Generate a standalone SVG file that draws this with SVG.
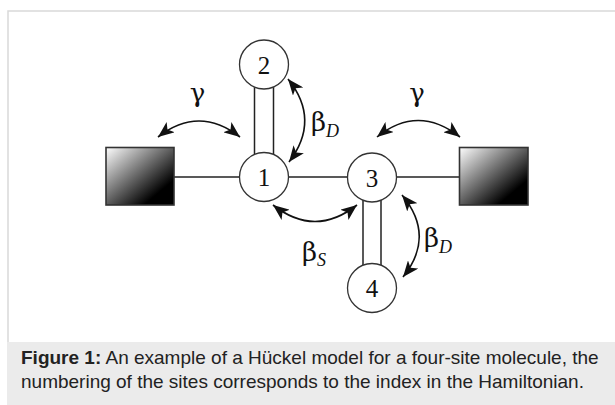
<svg xmlns="http://www.w3.org/2000/svg" width="615" height="405" viewBox="0 0 615 405">
  <style>
    .frame { stroke: #d9d9d9; stroke-width: 1.5; fill: none; }
    .bond { stroke: #222; stroke-width: 1.5; fill: none; }
    .site { fill: #fff; stroke: #333; stroke-width: 1.3; }
    .lead { stroke: #333; stroke-width: 1.6; }
    .num { font-family: "Liberation Serif", "DejaVu Serif", serif; font-size: 25px; fill: #111; text-anchor: middle; }
    .sym { font-family: "DejaVu Serif", "Liberation Serif", serif; font-size: 26px; fill: #111; }
    .sub { font-family: "Liberation Serif", "DejaVu Serif", serif; font-size: 18px; font-style: italic; fill: #111; }
    .arc { stroke: #111; stroke-width: 1.6; fill: none; marker-start: url(#tip); marker-end: url(#tip); }
    .cap { font-family: "Liberation Sans", Arial, sans-serif; font-size: 19px; fill: #222; }
  </style>
  <defs>
    <linearGradient id="shade" x1="0" y1="0" x2="1" y2="1">
      <stop offset="0" stop-color="#ffffff"/>
      <stop offset="0.78" stop-color="#000000"/>
    </linearGradient>
    <marker id="tip" markerUnits="userSpaceOnUse" markerWidth="17" markerHeight="13" viewBox="0 0 17 13" refX="16" refY="6.5" orient="auto-start-reverse">
      <path d="M0,0 L16,6.5 L0,13 L4,6.5 z" fill="#111"/>
    </marker>
  </defs>

  <rect width="615" height="405" fill="#fff"/>
  <path class="frame" d="M8,342 V11 H615"/>
  <rect x="7" y="342" width="608" height="63" fill="#ebebeb"/>

  <g id="connectors">
    <line class="bond" x1="174" y1="177" x2="240" y2="177"/>
    <line class="bond" x1="289" y1="177" x2="347" y2="177"/>
    <line class="bond" x1="397" y1="177" x2="459" y2="177"/>
    <line class="bond" x1="254.5" y1="87" x2="254.5" y2="155"/>
    <line class="bond" x1="273.5" y1="87" x2="273.5" y2="155"/>
    <line class="bond" x1="363" y1="199" x2="363" y2="266"/>
    <line class="bond" x1="381" y1="199" x2="381" y2="266"/>
    <path class="arc" d="M158,137 Q199,105 240,137"/>
    <path class="arc" d="M377,137 Q418,104 460,137"/>
    <path class="arc" d="M288,79 Q321,120 289,162"/>
    <path class="arc" d="M273,205 Q315,238 357,205"/>
    <path class="arc" d="M402,195 Q436,236 403,277"/>
  </g>

  <g id="lead-left"><rect class="lead" x="106" y="147.5" width="68" height="57.5" fill="url(#shade)"/></g>
  <g id="lead-right"><rect class="lead" x="459.5" y="147.5" width="68.5" height="57.5" fill="url(#shade)"/></g>

  <g id="site-1"><circle class="site" cx="264" cy="177" r="24.5"/><text class="num" x="264" y="186">1</text></g>
  <g id="site-2"><circle class="site" cx="264" cy="64.5" r="24.5"/><text class="num" x="264" y="73.5">2</text></g>
  <g id="site-3"><circle class="site" cx="372" cy="177.5" r="24.5"/><text class="num" x="372" y="186.5">3</text></g>
  <g id="site-4"><circle class="site" cx="372" cy="288" r="24.5"/><text class="num" x="372" y="297">4</text></g>

  <g id="labels">
    <text class="sym" x="197.5" y="102" text-anchor="middle">γ</text>
    <text class="sym" x="417" y="102" text-anchor="middle">γ</text>
    <text class="sym" x="311" y="131">β<tspan class="sub" dy="6">D</tspan></text>
    <text class="sym" x="302" y="261">β<tspan class="sub" dy="5">S</tspan></text>
    <text class="sym" x="424" y="247">β<tspan class="sub" dy="6">D</tspan></text>
  </g>

  <g id="caption">
    <text class="cap" x="21" y="364"><tspan font-weight="bold">Figure 1:</tspan> An example of a Hückel model for a four-site molecule, the</text>
    <text class="cap" x="21" y="388">numbering of the sites corresponds to the index in the Hamiltonian.</text>
  </g>
</svg>
